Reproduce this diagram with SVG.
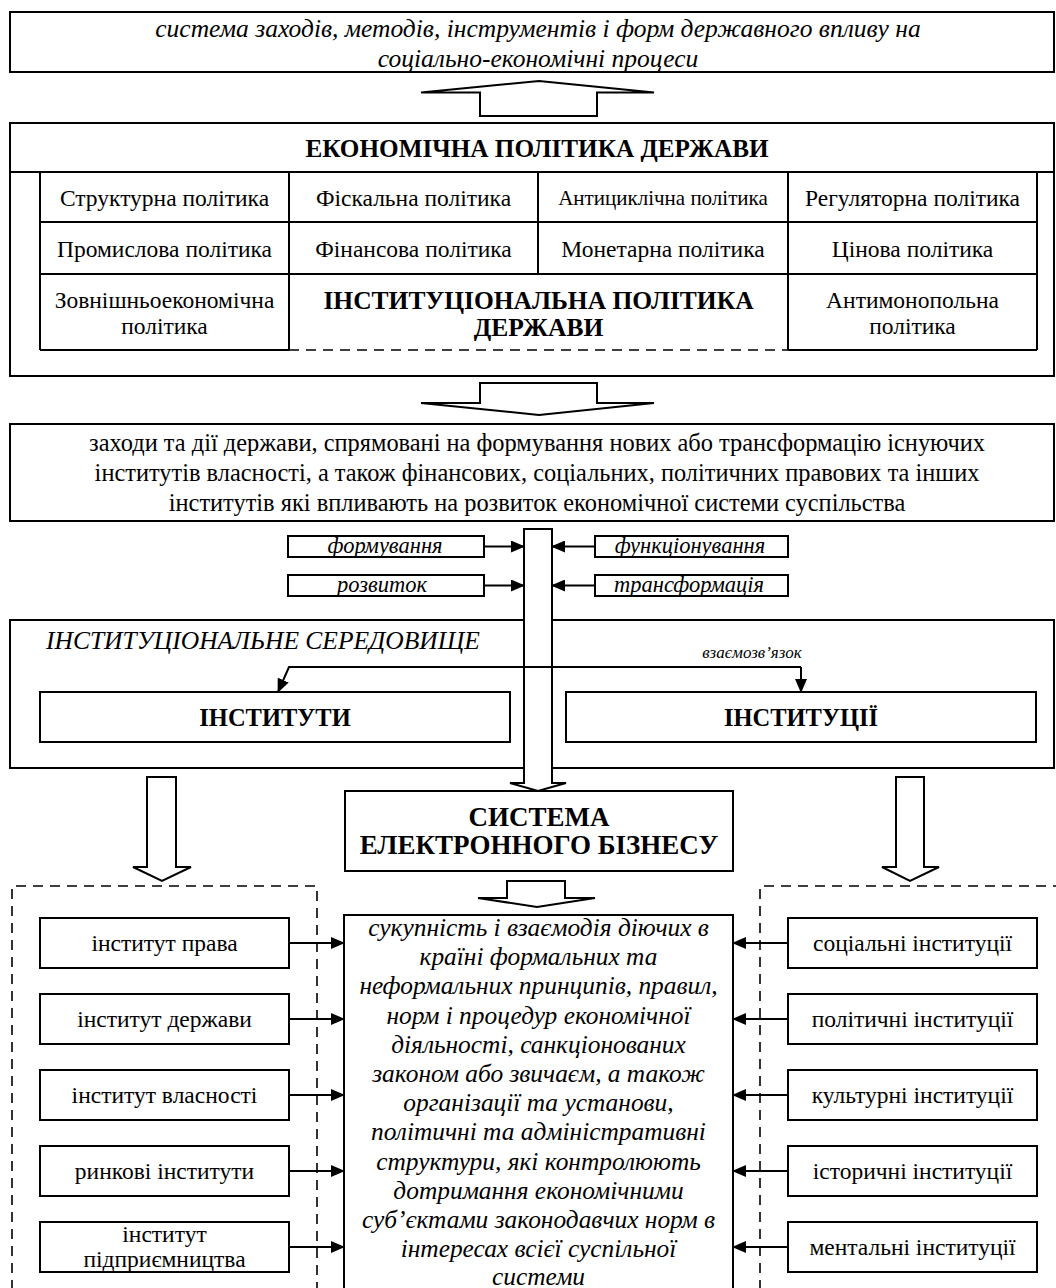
<svg xmlns="http://www.w3.org/2000/svg" width="1056" height="1288" viewBox="0 0 1056 1288">
<style>
  text { font-family: "Liberation Serif", "Times New Roman", serif; fill: #000; dominant-baseline: central; text-anchor: middle; }
  .box { fill: #fff; stroke: #000; stroke-width: 2; }
  .line { fill: none; stroke: #000; stroke-width: 2; }
  .dash { fill: none; stroke: #000; stroke-width: 1.6; stroke-dasharray: 10 7; }
  .barrow { fill: #fff; stroke: #000; stroke-width: 2; stroke-linejoin: miter; }
  .conn { fill: none; stroke: #000; stroke-width: 2; }
  .it { font-style: italic; }
  .b { font-weight: bold; }
  .cell { font-size: 23.5px; }
  .side { font-size: 23.5px; }
  .proc { font-size: 22.5px; font-style: italic; }
  .center { font-size: 25.4px; font-style: italic; }
</style>
<defs>
  <marker id="ah" markerUnits="userSpaceOnUse" markerWidth="14" markerHeight="12" refX="13" refY="6" orient="auto">
    <path d="M0,0 L14,6 L0,12 Z" fill="#000"/>
  </marker>
</defs>

<!-- top box -->
<g id="n-top">
  <rect class="box" x="10" y="12" width="1044" height="60"/>
  <text class="it" x="538" y="28" font-size="25.5">система заходів, методів, інструментів і форм державного впливу на</text>
  <text class="it" x="538" y="58" font-size="25.5">соціально-економічні процеси</text>
</g>

<!-- economic policy -->
<g id="n-policy">
  <rect class="box" x="10" y="123" width="1044" height="253"/>
  <line class="line" x1="10" y1="172" x2="1054" y2="172"/>
  <text class="b" x="537" y="148" font-size="25.2">ЕКОНОМІЧНА ПОЛІТИКА ДЕРЖАВИ</text>
  <line class="line" x1="40" y1="172" x2="40" y2="350"/>
  <line class="line" x1="1037" y1="172" x2="1037" y2="350"/>
  <line class="line" x1="289" y1="172" x2="289" y2="350"/>
  <line class="line" x1="538" y1="172" x2="538" y2="274"/>
  <line class="line" x1="788" y1="172" x2="788" y2="350"/>
  <line class="line" x1="40" y1="222" x2="1037" y2="222"/>
  <line class="line" x1="40" y1="274" x2="1037" y2="274"/>
  <line class="line" x1="40" y1="350" x2="289" y2="350"/>
  <line class="line" x1="788" y1="350" x2="1037" y2="350"/>
  <line class="dash" x1="289" y1="350" x2="788" y2="350"/>
  <text class="cell" x="164.5" y="198">Структурна політика</text>
  <text class="cell" x="413.5" y="198">Фіскальна політика</text>
  <text x="663" y="198" font-size="21">Антициклічна політика</text>
  <text class="cell" x="912.5" y="198">Регуляторна політика</text>
  <text class="cell" x="164.5" y="249">Промислова політика</text>
  <text class="cell" x="413.5" y="249">Фінансова політика</text>
  <text class="cell" x="663" y="249">Монетарна політика</text>
  <text class="cell" x="912.5" y="249">Цінова політика</text>
  <text class="cell" x="164.5" y="300">Зовнішньоекономічна</text>
  <text class="cell" x="164.5" y="326">політика</text>
  <text class="b" x="538.5" y="300" font-size="25.5">ІНСТИТУЦІОНАЛЬНА ПОЛІТИКА</text>
  <text class="b" x="538.5" y="327" font-size="25.5">ДЕРЖАВИ</text>
  <text class="cell" x="912.5" y="300">Антимонопольна</text>
  <text class="cell" x="912.5" y="326">політика</text>
</g>

<!-- measures box -->
<g id="n-measures">
  <rect class="box" x="10" y="424" width="1044" height="97"/>
  <text x="537" y="442" font-size="24.4">заходи та дії держави, спрямовані на формування нових або трансформацію існуючих</text>
  <text x="537" y="472" font-size="24.4">інститутів власності, а також фінансових, соціальних, політичних правових та інших</text>
  <text x="537" y="502" font-size="24.4">інститутів які впливають на розвиток економічної системи суспільства</text>
</g>

<!-- small process boxes -->
<g id="n-form">
  <rect class="box" x="288" y="536" width="196" height="21"/>
  <text class="proc" x="385" y="545.5">формування</text>
</g>
<g id="n-func">
  <rect class="box" x="595" y="536" width="193" height="21"/>
  <text class="proc" x="690" y="545.5">функціонування</text>
</g>
<g id="n-dev">
  <rect class="box" x="288" y="575" width="196" height="21"/>
  <text class="proc" x="382" y="584.5">розвиток</text>
</g>
<g id="n-trans">
  <rect class="box" x="595" y="575" width="193" height="21"/>
  <text class="proc" x="689" y="584.5">трансформація</text>
</g>

<!-- institutional environment -->
<g id="n-env">
  <rect class="box" x="10" y="620" width="1044" height="148"/>
  <text class="it" x="46" y="640" font-size="25.5" style="text-anchor:start">ІНСТИТУЦІОНАЛЬНЕ СЕРЕДОВИЩЕ</text>
</g>
<g id="n-institutes">
  <rect class="box" x="40" y="692" width="470" height="50"/>
  <text class="b" x="275" y="717" font-size="24.5">ІНСТИТУТИ</text>
</g>
<g id="n-institutions">
  <rect class="box" x="566" y="692" width="470" height="50"/>
  <text class="b" x="801" y="717" font-size="24.5">ІНСТИТУЦІЇ</text>
</g>

<!-- e-business system -->
<g id="n-system">
  <rect class="box" x="345" y="791" width="388" height="80"/>
  <text class="b" x="539" y="817" font-size="27">СИСТЕМА</text>
  <text class="b" x="539" y="845" font-size="27">ЕЛЕКТРОННОГО БІЗНЕСУ</text>
</g>

<!-- dashed containers -->
<g id="n-left-group">
  <path class="dash" d="M12,1290 L12,886 L317,886 L317,1290"/>
</g>
<g id="n-right-group">
  <path class="dash" d="M760,1290 L760,886 L1058,886"/>
</g>

<!-- central definition box -->
<g id="n-definition">
  <rect class="box" x="344" y="915" width="389" height="380"/>
  <text class="center" x="538.5" y="927">сукупність і взаємодія діючих в</text>
  <text class="center" x="538.5" y="956.2">країні формальних та</text>
  <text class="center" x="538.5" y="985.4">неформальних принципів, правил,</text>
  <text class="center" x="538.5" y="1014.6">норм і процедур економічної</text>
  <text class="center" x="538.5" y="1043.8">діяльності, санкціонованих</text>
  <text class="center" x="538.5" y="1073">законом або звичаєм, а також</text>
  <text class="center" x="538.5" y="1102.2">організації та установи,</text>
  <text class="center" x="538.5" y="1131.4">політичні та адміністративні</text>
  <text class="center" x="538.5" y="1160.6">структури, які контролюють</text>
  <text class="center" x="538.5" y="1189.8">дотримання економічними</text>
  <text class="center" x="538.5" y="1219">суб’єктами законодавчих норм в</text>
  <text class="center" x="538.5" y="1248.2">інтересах всієї суспільної</text>
  <text class="center" x="538.5" y="1276">системи</text>
</g>

<!-- left boxes -->
<g id="n-law"><rect class="box" x="40" y="918" width="249" height="50"/><text class="side" x="164.5" y="943">інститут права</text></g>
<g id="n-state"><rect class="box" x="40" y="994" width="249" height="50"/><text class="side" x="164.5" y="1019">інститут держави</text></g>
<g id="n-property"><rect class="box" x="40" y="1070" width="249" height="50"/><text class="side" x="164.5" y="1095">інститут власності</text></g>
<g id="n-market"><rect class="box" x="40" y="1146" width="249" height="50"/><text class="side" x="164.5" y="1171">ринкові інститути</text></g>
<g id="n-entrepreneur"><rect class="box" x="40" y="1222" width="249" height="50"/><text class="side" x="164.5" y="1234">інститут</text><text class="side" x="164.5" y="1259">підприємництва</text></g>

<!-- right boxes -->
<g id="n-social"><rect class="box" x="788" y="918" width="249" height="50"/><text class="side" x="912.5" y="943">соціальні інституції</text></g>
<g id="n-political"><rect class="box" x="788" y="994" width="249" height="50"/><text class="side" x="912.5" y="1019">політичні інституції</text></g>
<g id="n-cultural"><rect class="box" x="788" y="1070" width="249" height="50"/><text class="side" x="912.5" y="1095">культурні інституції</text></g>
<g id="n-historical"><rect class="box" x="788" y="1146" width="249" height="50"/><text class="side" x="912.5" y="1171">історичні інституції</text></g>
<g id="n-mental"><rect class="box" x="788" y="1222" width="249" height="50"/><text class="side" x="912.5" y="1247">ментальні інституції</text></g>

<!-- connectors -->
<g id="connectors">
  <path class="barrow" d="M480,116 L480,92.5 L421,92.5 L539,81 L654,92.5 L597,92.5 L597,116 Z"/>
  <path class="barrow" d="M480,383 L480,403 L421,403 L539,415 L654,403 L597,403 L597,383 Z"/>
  <path class="barrow" d="M524,529 L524,783 L510,783 L538,791 L566,783 L552,783 L552,529 Z"/>
  <path class="barrow" d="M507,881 L507,898 L478,898 L537,907 L595,898 L565,898 L565,881 Z"/>
  <path class="barrow" d="M147,777 L147,867 L133,867 L162,881 L191,867 L176,867 L176,777 Z"/>
  <path class="barrow" d="M896,777 L896,867 L882,867 L910,881 L939,867 L924,867 L924,777 Z"/>
  <line class="conn" x1="484" y1="546.5" x2="524" y2="546.5" marker-end="url(#ah)"/>
  <line class="conn" x1="484" y1="585.5" x2="524" y2="585.5" marker-end="url(#ah)"/>
  <line class="conn" x1="595" y1="546.5" x2="552" y2="546.5" marker-end="url(#ah)"/>
  <line class="conn" x1="595" y1="585.5" x2="552" y2="585.5" marker-end="url(#ah)"/>
  <path class="conn" d="M801,667 L289,667 L278,692" marker-end="url(#ah)"/>
  <line class="conn" x1="801" y1="667" x2="801" y2="692" marker-end="url(#ah)"/>
  <text class="it" x="752" y="652" font-size="17">взаємозв’язок</text>
  <line class="conn" x1="289" y1="943" x2="344" y2="943" marker-end="url(#ah)"/>
  <line class="conn" x1="289" y1="1019" x2="344" y2="1019" marker-end="url(#ah)"/>
  <line class="conn" x1="289" y1="1095" x2="344" y2="1095" marker-end="url(#ah)"/>
  <line class="conn" x1="289" y1="1171" x2="344" y2="1171" marker-end="url(#ah)"/>
  <line class="conn" x1="289" y1="1247" x2="344" y2="1247" marker-end="url(#ah)"/>
  <line class="conn" x1="788" y1="943" x2="733" y2="943" marker-end="url(#ah)"/>
  <line class="conn" x1="788" y1="1019" x2="733" y2="1019" marker-end="url(#ah)"/>
  <line class="conn" x1="788" y1="1095" x2="733" y2="1095" marker-end="url(#ah)"/>
  <line class="conn" x1="788" y1="1171" x2="733" y2="1171" marker-end="url(#ah)"/>
  <line class="conn" x1="788" y1="1247" x2="733" y2="1247" marker-end="url(#ah)"/>
</g>
</svg>
